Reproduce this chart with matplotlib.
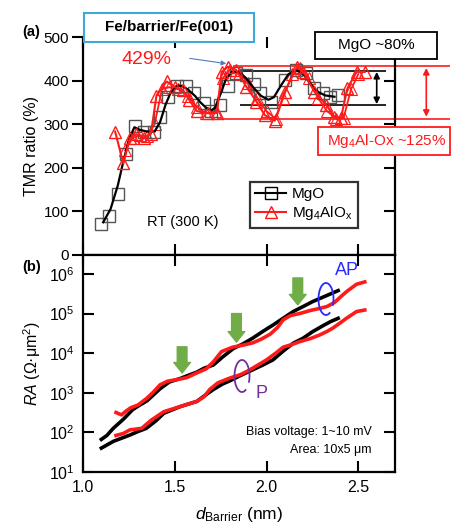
import numpy as np
import matplotlib
matplotlib.use("Agg")
import matplotlib.pyplot as plt
from matplotlib.patches import Rectangle, Arc

plt.rcParams['font.family'] = ['Liberation Sans', 'DejaVu Sans']
plt.rcParams['mathtext.fontset'] = 'custom'
plt.rcParams['mathtext.rm'] = 'Liberation Sans'
plt.rcParams['mathtext.it'] = 'Liberation Sans:italic'
plt.rcParams['mathtext.bf'] = 'Liberation Sans:bold'

# ---- (a) TMR ratio data ----
mgo_x = [1.10, 1.14, 1.19, 1.235, 1.285, 1.33, 1.385, 1.42, 1.465, 1.51, 1.56, 1.605, 1.66, 1.70,
         1.745, 1.79, 1.835, 1.89, 1.93, 1.965, 2.025, 2.10, 2.16, 2.215, 2.26, 2.305, 2.345, 2.39]
mgo_y = [70, 90, 140, 232, 296, 283, 281, 316, 363, 388, 387, 371, 348, 330,
         344, 388, 417, 412, 392, 372, 352, 401, 424, 417, 382, 371, 363, 367]

# smooth guide line through MgO points
fit_x = [1.11, 1.15, 1.19, 1.22, 1.25, 1.28, 1.31, 1.35, 1.39, 1.42, 1.45, 1.48, 1.51, 1.54, 1.57,
         1.61, 1.64, 1.67, 1.70, 1.72, 1.75, 1.78, 1.81, 1.85, 1.89, 1.93, 1.97, 2.01, 2.04, 2.08,
         2.12, 2.16, 2.20, 2.24, 2.28, 2.32, 2.37]
fit_y = [75, 105, 160, 215, 265, 293, 287, 283, 283, 305, 345, 375, 388, 388, 380,
         365, 350, 338, 332, 338, 370, 405, 420, 420, 405, 383, 365, 356, 362, 390,
         415, 424, 415, 392, 374, 366, 363]

mao_x = [1.175, 1.22, 1.255, 1.29, 1.33, 1.37, 1.40, 1.455, 1.50, 1.545, 1.58, 1.62, 1.68, 1.73,
         1.755, 1.79, 1.835, 1.89, 1.945, 1.99, 2.045, 2.10, 2.165, 2.20, 2.26, 2.325, 2.37,
         2.405, 2.44, 2.49, 2.535]
mao_y = [283, 210, 268, 277, 268, 278, 365, 398, 385, 378, 355, 330, 325, 326,
         420, 432, 424, 386, 352, 321, 308, 375, 432, 420, 375, 344, 317,
         314, 382, 420, 420]

mao2_x = [1.23, 1.27, 1.31, 1.35, 1.39, 1.43, 1.47, 1.52, 1.57, 1.62, 1.67, 1.72, 1.76, 1.80,
          1.85, 1.90, 1.95, 2.00, 2.05, 2.09, 2.14, 2.18, 2.23, 2.28, 2.33, 2.38, 2.42, 2.46, 2.50]
mao2_y = [240, 268, 275, 272, 300, 380, 385, 380, 365, 340, 325, 330, 405, 425,
          415, 395, 360, 330, 312, 360, 415, 428, 405, 360, 330, 312, 315, 380, 415]

mgo_band = [423, 343]
mao_band = [433, 313]

# ---- (b) RA data (log10 of RA) ----
bk_ap_x = [1.10, 1.13, 1.165, 1.22, 1.27, 1.30, 1.35, 1.42, 1.47, 1.53, 1.58, 1.62, 1.66, 1.71,
           1.76, 1.82, 1.87, 1.925, 1.98, 2.035, 2.09, 2.145, 2.20, 2.25, 2.30, 2.34, 2.39]
bk_ap_e = [1.82, 1.92, 2.10, 2.33, 2.57, 2.66, 2.80, 3.10, 3.27, 3.36, 3.45, 3.52, 3.62, 3.70,
           3.90, 4.12, 4.23, 4.38, 4.55, 4.71, 4.88, 5.05, 5.18, 5.30, 5.40, 5.48, 5.58]
rd_ap_x = [1.18, 1.21, 1.23, 1.26, 1.30, 1.345, 1.38, 1.42, 1.46, 1.51, 1.565, 1.62, 1.67, 1.71,
           1.755, 1.815, 1.87, 1.925, 1.97, 2.02, 2.06, 2.09, 2.13, 2.18, 2.24, 2.29, 2.33, 2.37,
           2.41, 2.44, 2.49, 2.535]
rd_ap_e = [2.50, 2.44, 2.52, 2.62, 2.69, 2.85, 3.00, 3.20, 3.29, 3.33, 3.38, 3.50, 3.60, 3.78,
           4.04, 4.15, 4.20, 4.26, 4.35, 4.48, 4.65, 4.84, 4.95, 5.00, 5.08, 5.13, 5.18, 5.28,
           5.45, 5.57, 5.74, 5.80]
bk_p_x = [1.10, 1.165, 1.255, 1.30, 1.345, 1.40, 1.44, 1.53, 1.62, 1.67, 1.71, 1.76, 1.80, 1.86,
          1.925, 1.98, 2.035, 2.09, 2.145, 2.20, 2.25, 2.31, 2.35, 2.39]
bk_p_e = [1.60, 1.77, 1.93, 2.02, 2.10, 2.30, 2.48, 2.65, 2.78, 2.95, 3.08, 3.22, 3.30, 3.44,
          3.58, 3.70, 3.83, 4.05, 4.25, 4.38, 4.54, 4.70, 4.80, 4.88]
rd_p_x = [1.18, 1.22, 1.255, 1.32, 1.37, 1.44, 1.53, 1.62, 1.66, 1.69, 1.735, 1.80, 1.86, 1.91,
          2.00, 2.05, 2.09, 2.14, 2.18, 2.24, 2.29, 2.33, 2.36, 2.40, 2.435, 2.49, 2.535]
rd_p_e = [1.92, 1.97, 2.06, 2.10, 2.30, 2.52, 2.65, 2.78, 2.90, 3.08, 3.25, 3.37, 3.46, 3.58,
          3.83, 4.00, 4.15, 4.22, 4.29, 4.37, 4.46, 4.55, 4.63, 4.76, 4.88, 5.05, 5.09]

# green arrows: x, tip exponent, tail exponent
arrow_x = [1.54, 1.836, 2.17]
arrow_tip = [3.50, 4.28, 5.22]
arrow_tail = [4.16, 5.00, 5.90]

W, H = 451, 529
fig = plt.figure(figsize=(W / 100, H / 100), dpi=100)
ax1 = fig.add_axes([0.184, 0.518, 0.692, 0.412])
ax2 = fig.add_axes([0.184, 0.108, 0.692, 0.410])

def fx(px):
    return px / W

def fy(py):
    return 1 - py / H

red = '#ff1a1a'

# ---------- panel (a) ----------
ax1.plot(mao2_x, mao2_y, color=red, lw=1.3, marker='^', ms=9, mfc='none', mec=red, mew=0.8, zorder=3)
ax1.plot(mgo_x, mgo_y, ls='none', marker='s', ms=9, mfc='none', mec='#555555', mew=1.0, zorder=4)
ax1.plot(fit_x, fit_y, color='black', lw=1.6, zorder=5)
ax1.plot(mao_x, mao_y, color=red, lw=1.5, marker='^', ms=9, mfc='none', mec=red, mew=1.0, zorder=6)
# legend proxies
ax1.plot([], [], color='black', lw=1.5, marker='s', ms=9, mfc='none', mec='black', label='MgO')
ax1.plot([], [], color=red, lw=1.5, marker='^', ms=9, mfc='none', mec=red,
         label='Mg$_4$AlO$_\\mathrm{x}$')

ax1.hlines(mgo_band, 1.853, 2.652, color='black', lw=1.2, zorder=2, clip_on=False)
ax1.hlines(mao_band[0], 1.815, 3.0, color=red, lw=1.2, zorder=2, clip_on=False)
ax1.hlines(mao_band[1], 1.728, 3.0, color=red, lw=1.2, zorder=2, clip_on=False)
ax1.annotate('', xy=(2.60, mgo_band[1] + 3), xytext=(2.60, mgo_band[0] - 3),
             arrowprops=dict(arrowstyle='<|-|>', color='black', lw=1.2, mutation_scale=9,
                             shrinkA=0, shrinkB=0))
ax1.annotate('', xy=(2.87, mao_band[1] + 4), xytext=(2.87, mao_band[0] - 4),
             arrowprops=dict(arrowstyle='<|-|>', color=red, lw=1.2, mutation_scale=9,
                             shrinkA=0, shrinkB=0), annotation_clip=False)

ax1.set_xlim(1.0, 2.7)
ax1.set_ylim(0, 500)
ax1.set_yticks([0, 100, 200, 300, 400, 500])
ax1.set_xticks([1.0, 1.5, 2.0, 2.5])
ax1.tick_params(axis='x', which='both', direction='in', top=True, bottom=True, labelbottom=False,
                length=8, width=1.5)
ax1.tick_params(axis='y', direction='out', length=8, width=1.5, labelsize=11, pad=2)
ax1.spines['top'].set_visible(False)
for s in ['left', 'right', 'bottom']:
    ax1.spines[s].set_linewidth(1.6)
ax1.set_ylabel('TMR ratio (%)', fontsize=11.5, labelpad=3)
for yt in [100, 200, 300, 400]:
    ax1.plot([2.7], [yt], marker=0, ms=8, mew=1.5, color='black', clip_on=False, zorder=7)

leg = ax1.legend(loc='upper left', bbox_to_anchor=(0.535, 0.335), borderaxespad=0,
                 fontsize=11, frameon=True, fancybox=False, edgecolor='black',
                 handlelength=2.0, handletextpad=0.4, borderpad=0.35, labelspacing=0.2)
leg.get_frame().set_linewidth(1.6)

ax1.text(0.205, 0.135, 'RT (300 K)', transform=ax1.transAxes, fontsize=10.5)

# ---------- panel (b) ----------
ax2.semilogy(bk_ap_x, 10 ** np.array(bk_ap_e), color='black', lw=2.6, zorder=3)
ax2.semilogy(bk_p_x, 10 ** np.array(bk_p_e), color='black', lw=2.6, zorder=3)
ax2.semilogy(rd_ap_x, 10 ** np.array(rd_ap_e), color=red, lw=2.6, zorder=4)
ax2.semilogy(rd_p_x, 10 ** np.array(rd_p_e), color=red, lw=2.6, zorder=4)

for x0, e_tip, e_tail in zip(arrow_x, arrow_tip, arrow_tail):
    ax2.annotate('', xy=(x0, 10 ** e_tip), xytext=(x0, 10 ** e_tail),
                 arrowprops=dict(arrowstyle='simple,head_length=0.75,head_width=1.2,tail_width=0.7',
                                 color='#70ad47', mutation_scale=10, shrinkA=0, shrinkB=0))

ax2.set_xlim(1.0, 2.7)
ax2.set_ylim(10, 10 ** 6.48)
ax2.set_xticks([1.0, 1.5, 2.0, 2.5])
ax2.set_xticklabels(['1.0', '1.5', '2.0', '2.5'])
ax2.set_yticks([1e1, 1e2, 1e3, 1e4, 1e5, 1e6])
ax2.minorticks_off()
ax2.tick_params(axis='x', direction='in', top=True, length=8, width=1.5, labelsize=11.5, pad=6)
ax2.tick_params(axis='y', direction='in', right=True, length=8, width=1.5, labelsize=11.5, pad=6)
for s in ax2.spines.values():
    s.set_linewidth(1.6)
ax2.set_ylabel('$RA$ (\u03a9\u00b7\u03bcm$^2$)', fontsize=11.5, labelpad=4)
ax2.set_xlabel('$d_\\mathrm{Barrier}$ (nm)', fontsize=12.5, labelpad=7)

ax2.text(0.925, 0.185, 'Bias voltage: 1~10 mV', transform=ax2.transAxes, ha='right', va='center',
         fontsize=9)
ax2.text(0.925, 0.1, 'Area: 10x5 \u03bcm', transform=ax2.transAxes, ha='right', va='center',
         fontsize=9)

ax2.text(2.44, 10 ** 6.1, 'AP', color='#2a2aff', fontsize=13, ha='center', va='center')
ax2.text(1.97, 10 ** 2.97, 'P', color='#7030a0', fontsize=13, ha='center', va='center')
fig.add_artist(Arc((fx(326), fy(299)), 15 / W, 32 / H, theta1=-40, theta2=290,
                   transform=fig.transFigure, color='#2a2aff', lw=1.3))
fig.add_artist(Arc((fx(242), fy(376)), 15 / W, 32 / H, theta1=-40, theta2=290,
                   transform=fig.transFigure, color='#7030a0', lw=1.3))

# ---------- boxes and labels ----------
fig.text(fx(22), fy(32), '(a)', fontsize=10.5, fontweight='bold', va='center')
fig.text(fx(22), fy(267), '(b)', fontsize=10.5, fontweight='bold', va='center')

fig.add_artist(Rectangle((fx(84), fy(42)), 170 / W, 29 / H, transform=fig.transFigure,
                         facecolor='white', edgecolor='#3fa9d6', lw=1.5, zorder=10))
fig.text(fx(169), fy(27.5), 'Fe/barrier/Fe(001)', fontsize=11, fontweight='bold',
         ha='center', va='center', zorder=11)

fig.add_artist(Rectangle((fx(315), fy(59)), 122 / W, 27 / H, transform=fig.transFigure,
                         facecolor='white', edgecolor='black', lw=1.3, zorder=10))
fig.text(fx(376), fy(45.5), 'MgO ~80%', fontsize=11, ha='center', va='center', zorder=11)

fig.add_artist(Rectangle((fx(318), fy(155)), 132 / W, 28 / H, transform=fig.transFigure,
                         facecolor='white', edgecolor=red, lw=1.3, zorder=10))
fig.text(fx(387), fy(141), 'Mg$_4$Al-Ox ~125%', fontsize=11, color=red, ha='center',
         va='center', zorder=11)

fig.text(fx(146), fy(60), '429%', fontsize=14, color=red, ha='center', va='center')
fig.add_artist(matplotlib.patches.FancyArrowPatch((fx(187), fy(58)), (fx(229), fy(64)),
                                                  transform=fig.transFigure,
                                                  arrowstyle='-|>', mutation_scale=7,
                                                  color='#4a7ebb', lw=0.8))

fig.savefig('out.png', dpi=100)
